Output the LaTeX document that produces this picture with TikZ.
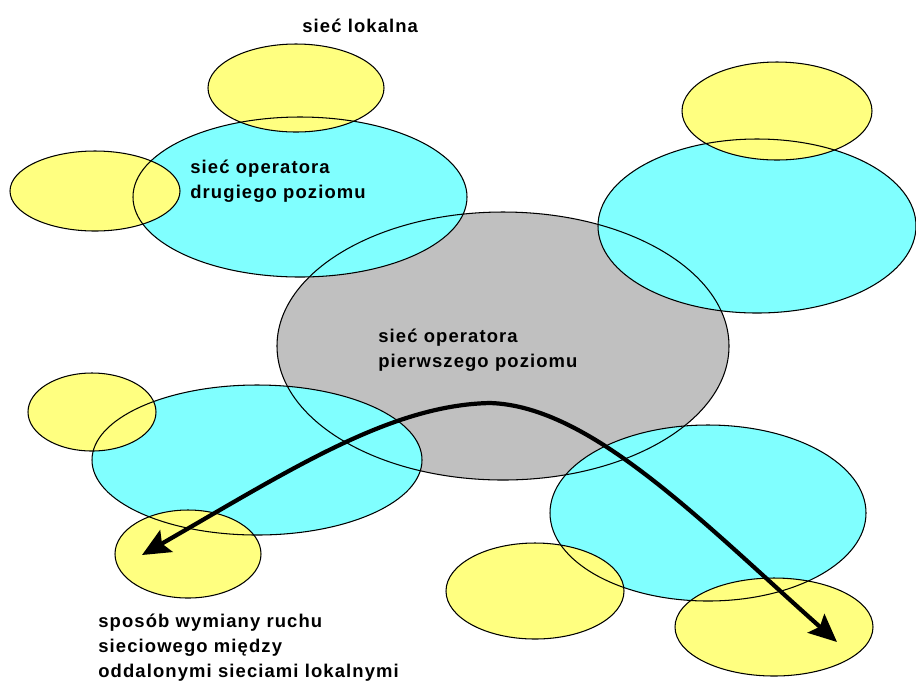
\documentclass[tikz,border=0pt]{standalone}
\usepackage{fontspec}
\setmainfont{Liberation Sans}[LetterSpace=6]
\usepackage{tikz}
\usetikzlibrary{arrows.meta}
\definecolor{corefill}{HTML}{C0C0C0}
\definecolor{opfill}{HTML}{80FFFF}
\definecolor{lanfill}{HTML}{FFFF80}
% x/y centre, x/y radius, fill colour (bottom to top)
\def\netlist{503/346/226/134/corefill,
  300/197/167/80/opfill, 757/226/159/87/opfill,
  257/460/165/75/opfill, 708/513/158/88/opfill,
  296/88/88/44/lanfill, 95/191/85/40/lanfill, 777/111/95/49/lanfill,
  92/412/64/39/lanfill, 188/554/73/44/lanfill,
  535/591/89/48/lanfill, 774/627/99/49/lanfill}

\begin{document}
\begin{tikzpicture}[x=0.02cm,y=-0.02cm,
  lbl/.style={anchor=base west,align=left,inner sep=0pt,
    font=\fontsize{10.5}{14.2}\selectfont\bfseries},
  traffic/.style={line width=2.4pt,{Stealth[length=5.6mm,width=5mm,inset=1mm]}-{Stealth[length=5.6mm,width=5mm,inset=1mm]}}]
\useasboundingbox (0,0) rectangle (916,681);
  \foreach \cx/\cy/\rx/\ry/\col in \netlist
    \fill[\col] (\cx,\cy) ellipse [x radius=\rx,y radius=\ry];
  \foreach \cx/\cy/\rx/\ry/\col in \netlist
    \draw[line width=0.6pt] (\cx,\cy) ellipse [x radius=\rx,y radius=\ry];

  % base anchor sits on the last line
  \node[lbl] at (302,32) (lan) {sieć lokalna};
  \node[lbl] at (190,198) (second) {sieć operatora\\drugiego poziomu};
  \node[lbl] at (378,367) (first) {sieć operatora\\pierwszego poziomu};
  \node[lbl] at (98,677) (route) {sposób wymiany ruchu\\sieciowego między\\oddalonymi sieciami lokalnymi};

  \coordinate (srclan) at (142,555);
  \coordinate (peak) at (490,403);
  \coordinate (dstlan) at (837,642);
  \draw[traffic] (srclan) .. controls (290,470) and (390,405) .. (peak)
    .. controls (590,406) and (700,520) .. (dstlan);
\end{tikzpicture}
\end{document}
